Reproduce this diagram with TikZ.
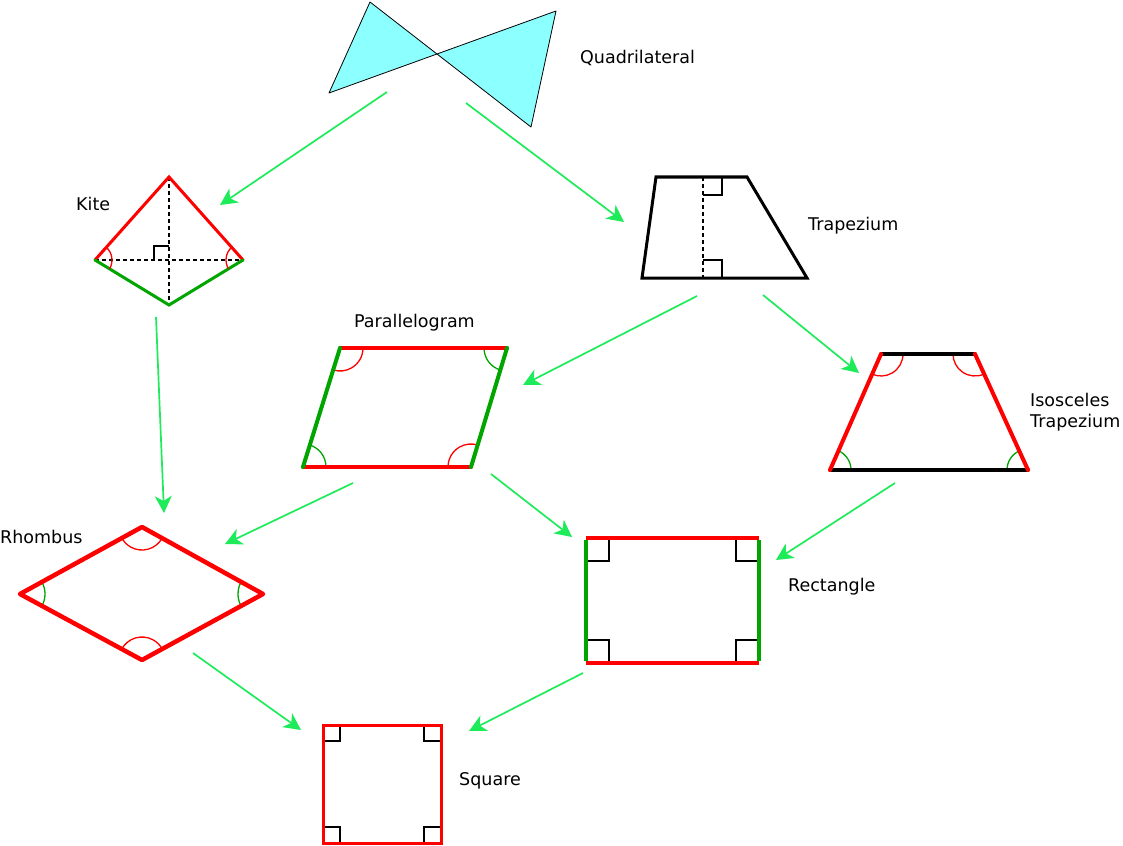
\documentclass[tikz,border=0pt]{standalone}
\usepackage{fontspec}
\setmainfont{DejaVu Sans}
\usetikzlibrary{arrows.meta}
\definecolor{qcyan}{RGB}{140,255,255}
\definecolor{agreen}{RGB}{30,235,90}
\definecolor{sgreen}{RGB}{0,165,0}
\definecolor{sred}{RGB}{255,0,0}
\begin{document}
\begin{tikzpicture}[x=1pt,y=-1pt,
  arr/.style={draw=agreen, line width=1.7pt, -{Stealth[length=17pt,width=17pt,inset=5pt]}},
  lbl/.style={font=\fontsize{17.5}{21}\selectfont, inner sep=0pt, anchor=west},
  redge/.style={draw=sred, line width=#1, line cap=round},
  gedge/.style={draw=sgreen, line width=#1, line cap=round},
  kedge/.style={draw=black, line width=#1, line cap=round},
  rarc/.style={draw=sred, line width=1.3pt},
  garc/.style={draw=sgreen, line width=1.3pt},
  rmark/.style={draw=black, line width=1.3pt},
  dashline/.style={draw=black, line width=1.2pt, dash pattern=on 4pt off 3pt}]
\useasboundingbox (0,0) rectangle (1123,845);

% ---------- Quadrilateral ----------
\coordinate (q1) at (370,2);
\coordinate (q2) at (531,127);
\coordinate (q3) at (556,11);
\coordinate (q4) at (329,93);
\filldraw[fill=qcyan, draw=black, line width=0.8pt, line join=round] (q1) -- (q2) -- (q3) -- (q4) -- cycle;
\node[lbl] (lq) at (580,58) {Quadrilateral};

% ---------- Kite ----------
\coordinate (kt) at (169,177);
\coordinate (kl) at (95,260);
\coordinate (kr) at (243,260);
\coordinate (kb) at (169,305);
\draw[dashline] (kt) -- (kb);
\draw[dashline] (kl) -- (kr);
\draw[rmark] (169,246) -- (154,246) -- (154,260);
\draw[redge=3pt] (kl) -- (kt) -- (kr);
\draw[gedge=3pt] (kl) -- (kb) -- (kr);
\draw[rarc] ([shift={(-48.3:17)}]kl) arc[start angle=-48.3, end angle=31.3, radius=17];
\draw[rarc] ([shift={(148.7:17)}]kr) arc[start angle=148.7, end angle=228.3, radius=17];
\node[lbl] (lk) at (76,204) {Kite};

% ---------- Trapezium ----------
\coordinate (t1) at (656,177);
\coordinate (t2) at (747,177);
\coordinate (t3) at (807,278);
\coordinate (t4) at (642,278);
\draw[dashline] (703,177) -- (703,278);
\draw[rmark] (703,195) -- (722,195) -- (722,177);
\draw[rmark] (703,260) -- (722,260) -- (722,278);
\draw[kedge=3pt, line join=miter] (t1) -- (t2) -- (t3) -- (t4) -- cycle;
\node[lbl] (lt) at (808,226) {Trapezium};

% ---------- Parallelogram ----------
\coordinate (p1) at (340,348);
\coordinate (p2) at (507,348);
\coordinate (p3) at (471,467);
\coordinate (p4) at (303,467);
\draw[rarc] ([shift={(0:23)}]p1) arc[start angle=0, end angle=107.3, radius=23];
\draw[garc] ([shift={(106.8:23)}]p2) arc[start angle=106.8, end angle=180, radius=23];
\draw[rarc] ([shift={(180:23)}]p3) arc[start angle=180, end angle=286.8, radius=23];
\draw[garc] ([shift={(-72.7:23)}]p4) arc[start angle=-72.7, end angle=0, radius=23];
\draw[redge=4pt] (p1) -- (p2);
\draw[redge=4pt] (p4) -- (p3);
\draw[gedge=4pt] (p1) -- (p4);
\draw[gedge=4pt] (p2) -- (p3);
\node[lbl] (lp) at (354,323) {Parallelogram};

% ---------- Isosceles trapezium ----------
\coordinate (i1) at (881,354);
\coordinate (i2) at (975,354);
\coordinate (i3) at (1028,470);
\coordinate (i4) at (830,470);
\draw[rarc] ([shift={(0:22)}]i1) arc[start angle=0, end angle=113.7, radius=22];
\draw[rarc] ([shift={(65.4:22)}]i2) arc[start angle=65.4, end angle=180, radius=22];
\draw[garc] ([shift={(-66.3:21)}]i4) arc[start angle=-66.3, end angle=0, radius=21];
\draw[garc] ([shift={(180:21)}]i3) arc[start angle=180, end angle=245.4, radius=21];
\draw[kedge=4pt] (i1) -- (i2);
\draw[kedge=4pt] (i4) -- (i3);
\draw[redge=4pt] (i1) -- (i4);
\draw[redge=4pt] (i2) -- (i3);
\node[lbl, align=left, anchor=north west] (li) at (1030,393) {Isosceles\\Trapezium};

% ---------- Rhombus ----------
\coordinate (r1) at (142,527);
\coordinate (r2) at (263,594);
\coordinate (r3) at (142,660);
\coordinate (r4) at (20,594);
\draw[rarc] ([shift={(29:23)}]r1) arc[start angle=29, end angle=151.2, radius=23];
\draw[rarc] ([shift={(208.4:23)}]r3) arc[start angle=208.4, end angle=331.4, radius=23];
\draw[garc] ([shift={(-28.8:25)}]r4) arc[start angle=-28.8, end angle=28.4, radius=25];
\draw[garc] ([shift={(151.4:25)}]r2) arc[start angle=151.4, end angle=209, radius=25];
\draw[redge=4.5pt, line join=round] (r1) -- (r2) -- (r3) -- (r4) -- cycle;
\node[lbl] (lr) at (0,537) {Rhombus};

% ---------- Rectangle ----------
\coordinate (c1) at (586,538);
\coordinate (c2) at (759,538);
\coordinate (c3) at (759,663);
\coordinate (c4) at (586,663);
\draw[rmark] (586,561) -- (609,561) -- (609,538);
\draw[rmark] (759,561) -- (736,561) -- (736,538);
\draw[rmark] (586,640) -- (609,640) -- (609,663);
\draw[rmark] (759,640) -- (736,640) -- (736,663);
\draw[redge=4pt, line cap=butt] (c1) -- (c2);
\draw[redge=4pt, line cap=butt] (c4) -- (c3);
\draw[gedge=4pt, line cap=butt] ([yshift=-2pt]c1) -- ([yshift=2pt]c4);
\draw[gedge=4pt, line cap=butt] ([yshift=-2pt]c2) -- ([yshift=2pt]c3);
\node[lbl] (lc) at (788,587) {Rectangle};

% ---------- Square ----------
\coordinate (s1) at (323,725);
\coordinate (s2) at (441,725);
\coordinate (s3) at (441,843);
\coordinate (s4) at (323,843);
\draw[rmark] (323,741) -- (340,741) -- (340,725);
\draw[rmark] (441,741) -- (424,741) -- (424,725);
\draw[rmark] (323,827) -- (340,827) -- (340,843);
\draw[rmark] (441,827) -- (424,827) -- (424,843);
\draw[redge=3pt, line cap=butt, line join=miter] (s1) -- (s2) -- (s3) -- (s4) -- cycle;
\node[lbl] (ls) at (459,781) {Square};

% ---------- Arrows ----------
\coordinate (a1s) at (387,92);   \coordinate (a1e) at (220,205);
\coordinate (a2s) at (466,103);  \coordinate (a2e) at (624,222);
\coordinate (a3s) at (156,317);  \coordinate (a3e) at (164,513);
\coordinate (a4s) at (697,296);  \coordinate (a4e) at (523,385);
\coordinate (a5s) at (763,295);  \coordinate (a5e) at (859,373);
\coordinate (a6s) at (353,483);  \coordinate (a6e) at (225,544);
\coordinate (a7s) at (491,474);  \coordinate (a7e) at (572,537);
\coordinate (a8s) at (895,483);  \coordinate (a8e) at (776,560);
\coordinate (a9s) at (193,653);  \coordinate (a9e) at (301,730);
\coordinate (a10s) at (583,673); \coordinate (a10e) at (469,731);
\foreach \i in {1,...,10}{\draw[arr] (a\i s) -- (a\i e);}
\end{tikzpicture}
\end{document}
